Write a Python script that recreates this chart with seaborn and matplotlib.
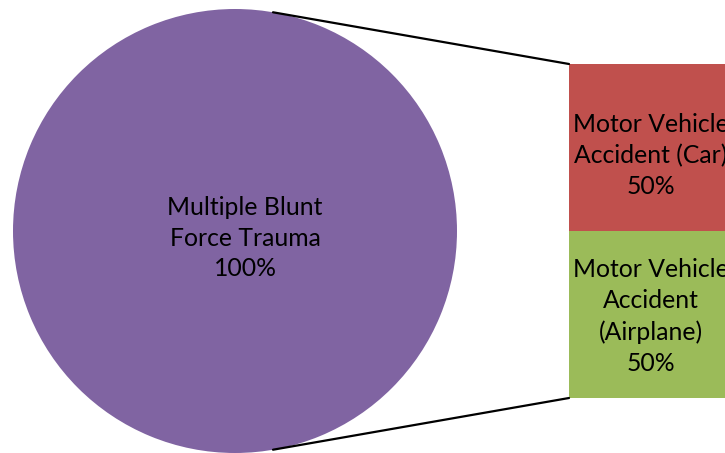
import matplotlib
matplotlib.use("Agg")
import matplotlib.pyplot as plt
import numpy as np
import seaborn as sns

# Pie-of-bar: a single cause broken down by accident type
pie_labels = ["Multiple Blunt\nForce Trauma"]
pie_values = [100]
bar_labels = ["Motor Vehicle\nAccident (Car)", "Motor Vehicle\nAccident\n(Airplane)"]
bar_values = [50, 50]

sns.set_theme(style="white")
plt.rcParams["font.family"] = ["Lato", "DejaVu Sans"]

purple, red, green = "#8064A2", "#C0504D", "#9BBB59"

W, H = 725, 453
fig = plt.figure(figsize=(W / 100, H / 100), dpi=100)
ax = fig.add_axes([0, 0, 1, 1])

# Pie (left)
cx, cy, r = 235, 231, 222
ax.pie(pie_values, colors=[purple], radius=r, center=(cx, cy),
       startangle=90, wedgeprops=dict(linewidth=0))
total_pie = sum(pie_values)
ax.text(245, 238, f"{pie_labels[0]}\n{pie_values[0] / total_pie:.0%}",
        ha="center", va="center", fontsize=17.8, color="black", linespacing=1.42)

# Stacked bar (right), split by value shares
bx, bw = 569, 166
btop, bheight = 64, 334
bar_total = sum(bar_values)
bottom = btop
centers = []
for lab, val, col in zip(bar_labels, bar_values, [red, green]):
    h = bheight * val / bar_total
    ax.bar(bx, h, width=bw, bottom=bottom, align="edge", color=col, linewidth=0)
    centers.append(bottom + h / 2)
    bottom += h

for lab, val, yc, yoff in zip(bar_labels, bar_values, centers, [8, 2]):
    ax.text(bx + bw / 2 - 1, yc + yoff, f"{lab}\n{val / bar_total:.0%}",
            ha="center", va="center", fontsize=17.8, color="black", linespacing=1.42)

# Connector lines from the pie edge to the bar corners
ang = np.arcsin(38 / r)
top_pt = (cx + r * np.sin(ang), cy - r * np.cos(ang))
bot_pt = (cx + r * np.sin(ang), cy + r * np.cos(ang))
ax.plot([top_pt[0], bx], [top_pt[1], btop], color="black", lw=1.6)
ax.plot([bot_pt[0], bx], [bot_pt[1], btop + bheight], color="black", lw=1.6)

ax.set_xlim(0, W)
ax.set_ylim(H, 0)
ax.set_aspect("auto")
ax.axis("off")

fig.savefig("out.png", dpi=100, facecolor="white")
